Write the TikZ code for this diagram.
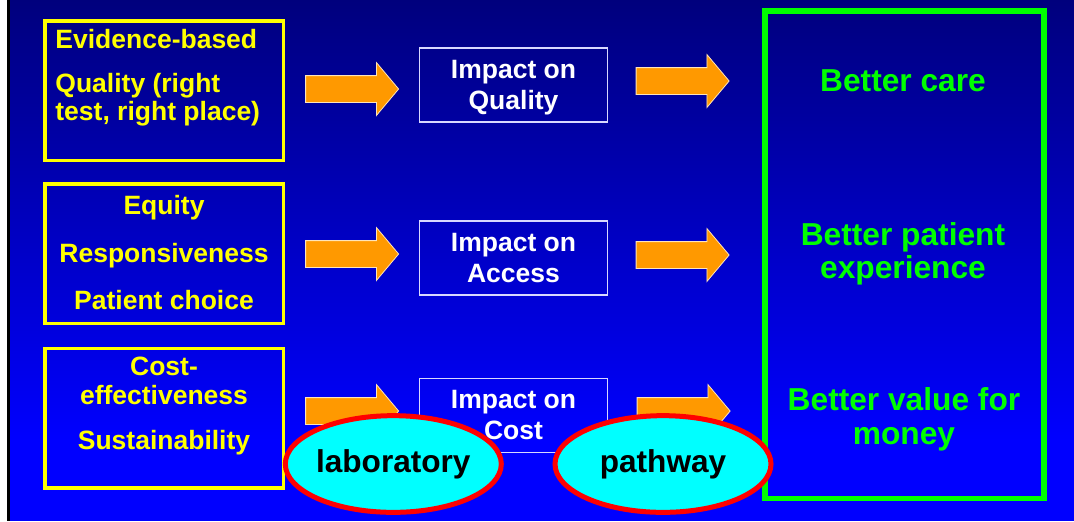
\documentclass[tikz,border=0pt]{standalone}
\usepackage{fontspec}
\setmainfont{Liberation Sans}
\usetikzlibrary{shapes.geometric,shapes.arrows}
\definecolor{slidetop}{RGB}{0,0,125}
\definecolor{slideblue}{RGB}{0,0,255}
\definecolor{boxyellow}{RGB}{255,255,0}
\definecolor{boxgreen}{RGB}{0,255,0}
\definecolor{arroworange}{RGB}{255,153,0}
\definecolor{arrowedge}{RGB}{255,228,185}
\definecolor{impactedge}{RGB}{215,215,255}
\definecolor{bubblecyan}{RGB}{0,255,255}
\definecolor{bubblered}{RGB}{255,0,0}
\begin{document}
\begin{tikzpicture}[x=0.5pt,y=-0.5pt,
  every node/.style={inner sep=0pt},
  goalbox/.style={draw=boxyellow, line width=1.75pt, minimum width=119.25pt, minimum height=69.75pt},
  goaltext/.style={text=boxyellow, font=\fontsize{13.25}{15}\selectfont\bfseries, anchor=base},
  impactbox/.style={draw=impactedge, line width=0.6pt, minimum width=94pt, minimum height=37pt},
  impacttext/.style={text=white, font=\fontsize{13.25}{15}\selectfont\bfseries, anchor=base},
  outcometext/.style={text=boxgreen, font=\fontsize{15.85}{17}\selectfont\bfseries, anchor=base},
  blockarrow/.style={single arrow, fill=arroworange, draw=arrowedge, line width=0.4pt,
    inner xsep=0pt, inner ysep=6.5pt,
    minimum height=46.5pt, minimum width=26pt, single arrow head extend=6.5pt, single arrow tip angle=100},
  bubble/.style={ellipse, fill=bubblecyan, draw=bubblered, line width=2.5pt, inner xsep=-1.5pt,
    minimum width=108pt, minimum height=48.35pt, font=\fontsize{15.8}{17}\selectfont\bfseries}]
% slide background
\fill[white] (0,0) rectangle (7,521);
\fill[black] (7,0) rectangle (10,521);
\shade[top color=slidetop, bottom color=slideblue] (10,0) rectangle (1074,440);
\fill[slideblue] (10,439) rectangle (1074,521);
\useasboundingbox (0,0) rectangle (1074,521);
% left column
\node[goalbox] (quality) at (164,90.5) {};
\node[goaltext, anchor=base west] (evidence) at (55,48) {Evidence-based};
\node[goaltext, anchor=base west] (rightq) at (55,92.5) {Quality (right};
\node[goaltext, anchor=base west] (rightp) at (55,120.5) {test, right place)};
\node[goalbox] (access) at (164,253.5) {};
\node[goaltext] (equity) at (164,214) {Equity};
\node[goaltext] (respons) at (164,262) {Responsiveness};
\node[goaltext] (choice) at (164,309) {Patient choice};
\node[goalbox] (cost) at (164,418) {};
\node[goaltext] (costa) at (164,375) {Cost-};
\node[goaltext] (costb) at (164,404) {effectiveness};
\node[goaltext] (sustain) at (164,449) {Sustainability};
% arrows in
\node[blockarrow] (inq) at (346.5,89) {};
\node[blockarrow] (ina) at (346.5,254) {};
\node[blockarrow] (inc) at (346.5,411) {};
% impact boxes
\node[impactbox] (impq) at (513.5,85) {};
\node[impacttext] (impqa) at (513.5,78.7) {Impact on};
\node[impacttext] (impqb) at (513.5,109.7) {Quality};
\node[impactbox] (impa) at (513.5,258) {};
\node[impacttext] (impaa) at (513.5,251.7) {Impact on};
\node[impacttext] (impab) at (513.5,282.7) {Access};
\node[impactbox] (impc) at (513.5,415.5) {};
\node[impacttext] (impca) at (513.5,408.8) {Impact on};
\node[impacttext] (impcb) at (513.5,439.8) {Cost};
% arrows out
\node[blockarrow] (outq) at (677,81) {};
\node[blockarrow] (outa) at (677,255) {};
\node[blockarrow] (outc) at (678,411) {};
% outcomes
\node[draw=boxgreen, line width=2.75pt, minimum width=139.5pt, minimum height=243.75pt] (benefit) at (904.25,254.5) {};
\node[outcometext] (care) at (903,91.7) {Better care};
\node[outcometext] (patient) at (903,245) {Better patient};
\node[outcometext] (exper) at (903,278.3) {experience};
\node[outcometext] (value) at (904,410.7) {Better value for};
\node[outcometext] (money) at (904,444.5) {money};
% bubbles
\node[bubble] (lab) at (393.3,464) {laboratory};
\node[bubble] (path) at (663,464) {pathway};
\end{tikzpicture}
\end{document}
